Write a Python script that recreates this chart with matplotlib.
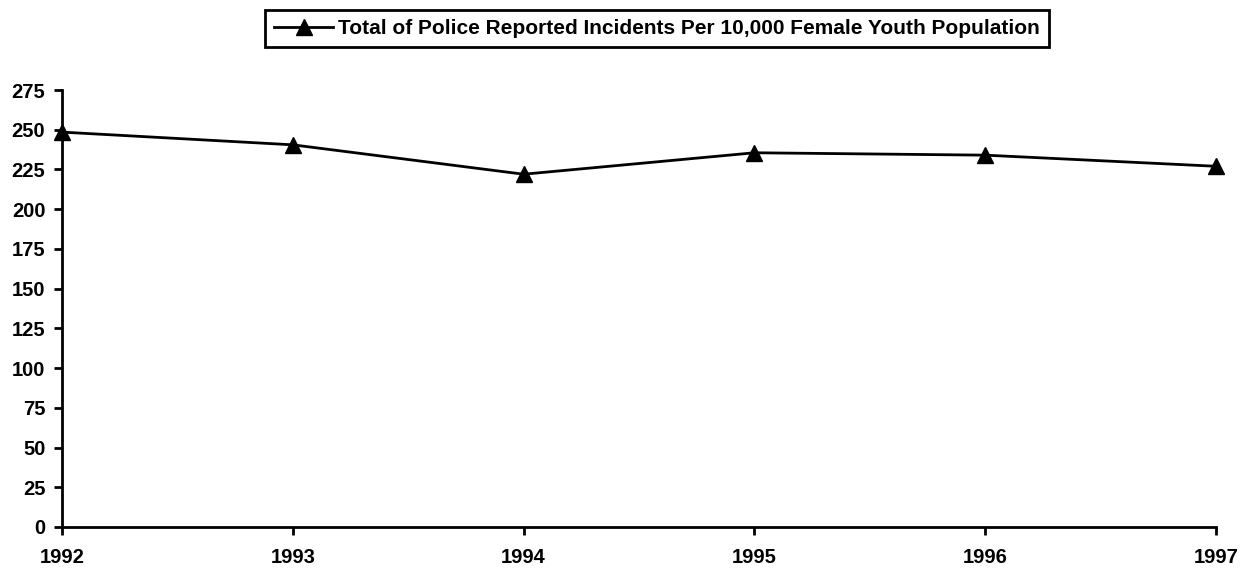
import matplotlib.pyplot as plt

plt.rcParams['font.family'] = ['Liberation Sans', 'DejaVu Sans']
plt.rcParams['font.weight'] = 'bold'

years = [1992, 1993, 1994, 1995, 1996, 1997]
incidents = [248.5, 240.5, 222, 235.5, 234, 227]
yticks = list(range(0, 276, 25))

fig = plt.figure(figsize=(12.55, 5.69), dpi=100)
ax = fig.add_axes([62 / 1255, 1 - 527 / 569, (1216 - 62) / 1255, (527 - 90) / 569])

ax.plot(years, incidents, color='black', lw=2, marker='^', markersize=12,
        label='Total of Police Reported Incidents Per 10,000 Female Youth Population',
        clip_on=False, zorder=3)

ax.set_xlim(1992, 1997)
ax.set_ylim(0, 275)
ax.set_xticks(years)
ax.set_yticks(yticks)
ax.tick_params(labelsize=14.5, width=2, length=6, direction='out')
ax.tick_params(axis='x', pad=9)
ax.tick_params(axis='y', pad=6)
for lab in ax.get_xticklabels() + ax.get_yticklabels():
    lab.set_fontweight('bold')
for s in ['top', 'right']:
    ax.spines[s].set_visible(False)
for s in ['left', 'bottom']:
    ax.spines[s].set_linewidth(2)

leg = ax.legend(loc='center', bbox_to_anchor=(657 / 1255, 1 - 28.5 / 569),
                bbox_transform=fig.transFigure, frameon=True, fancybox=False,
                framealpha=1, prop={'weight': 'bold', 'size': 15}, handlelength=2.8,
                handletextpad=0.25, borderpad=0.45, borderaxespad=0)
leg.get_frame().set_edgecolor('black')
leg.get_frame().set_linewidth(2)

fig.savefig('out.png', dpi=100)
